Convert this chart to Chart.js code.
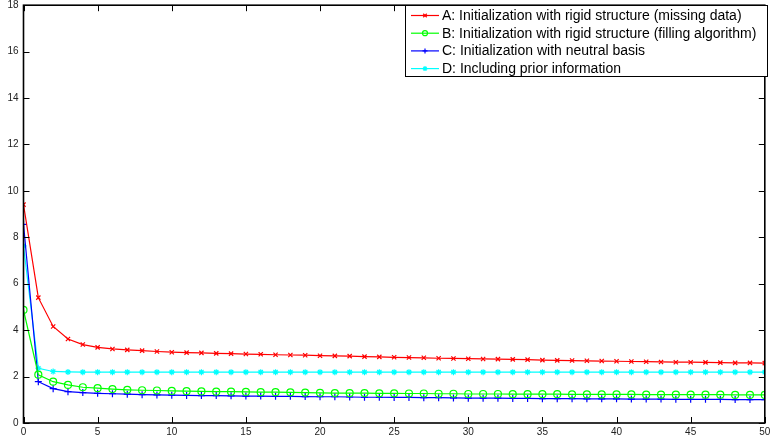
<!DOCTYPE html>
<html>
<head>
<meta charset="utf-8">
<script src="https://cdn.jsdelivr.net/npm/chart.js@4.4.1/dist/chart.umd.min.js"></script>
<style>
  html, body { margin: 0; padding: 0; background: #fff; }
  #wrap { width: 770px; height: 442px; position: relative; }
</style>
</head>
<body>
<div id="wrap"><canvas id="chart" width="770" height="442"></canvas></div>
<script>
// iterations 0..50
const iterations = Array.from({ length: 51 }, (_, i) => i);

const seriesLabels = [
  "A: Initialization with rigid structure (missing data)",
  "B: Initialization with rigid structure (filling algorithm)",
  "C: Initialization with neutral basis",
  "D: Including prior information",
];

const valuesA = [9.41, 5.40, 4.16, 3.62, 3.38, 3.26, 3.19, 3.15, 3.12, 3.08,
  3.05, 3.03, 3.02, 3.00, 2.99, 2.97, 2.96, 2.94, 2.93, 2.92,
  2.90, 2.89, 2.88, 2.86, 2.85, 2.83, 2.82, 2.81, 2.79, 2.78,
  2.77, 2.76, 2.75, 2.74, 2.73, 2.71, 2.70, 2.69, 2.68, 2.67,
  2.66, 2.65, 2.64, 2.63, 2.62, 2.62, 2.61, 2.60, 2.59, 2.59, 2.58];

const valuesB = [4.87, 2.08, 1.78, 1.64, 1.54, 1.50, 1.46, 1.43, 1.41, 1.40,
  1.38, 1.37, 1.36, 1.35, 1.35, 1.34, 1.33, 1.33, 1.32, 1.31,
  1.30, 1.29, 1.29, 1.29, 1.28, 1.28, 1.27, 1.27, 1.26, 1.26,
  1.25, 1.25, 1.25, 1.24, 1.24, 1.24, 1.24, 1.23, 1.23, 1.23,
  1.23, 1.23, 1.22, 1.22, 1.22, 1.22, 1.22, 1.22, 1.21, 1.21, 1.21];

const valuesC = [8.56, 1.78, 1.48, 1.35, 1.31, 1.28, 1.26, 1.24, 1.22, 1.21,
  1.20, 1.19, 1.18, 1.18, 1.17, 1.16, 1.16, 1.15, 1.15, 1.14,
  1.13, 1.13, 1.12, 1.11, 1.11, 1.10, 1.10, 1.09, 1.09, 1.08,
  1.07, 1.07, 1.07, 1.06, 1.06, 1.05, 1.05, 1.05, 1.04, 1.04,
  1.04, 1.03, 1.03, 1.03, 1.02, 1.02, 1.02, 1.02, 1.01, 1.01, 1.01];

const valuesD = [7.63, 2.36, 2.22, 2.20, 2.19, 2.19, 2.19, 2.19, 2.19, 2.19,
  2.19, 2.19, 2.19, 2.19, 2.19, 2.19, 2.19, 2.19, 2.19, 2.19,
  2.19, 2.19, 2.19, 2.19, 2.19, 2.19, 2.19, 2.19, 2.19, 2.19,
  2.19, 2.19, 2.19, 2.19, 2.19, 2.19, 2.19, 2.19, 2.19, 2.19,
  2.19, 2.19, 2.19, 2.19, 2.19, 2.19, 2.19, 2.19, 2.19, 2.19, 2.19];

const xTicks = [0, 5, 10, 15, 20, 25, 30, 35, 40, 45, 50];
const yTicks = [0, 2, 4, 6, 8, 10, 12, 14, 16, 18];

const colors = ["#ff0000", "#00ff00", "#0000ff", "#00ffff"];
const markers = ["crossRot", "circle", "cross", "star"];
const markerSize = [3, 3.5, 3.5, 3];
const allValues = [valuesA, valuesB, valuesC, valuesD];

const FONT = "'Liberation Sans', Arial, sans-serif";

function makeDataset(i) {
  return {
    label: seriesLabels[i],
    data: iterations.map((x, k) => ({ x: x, y: allValues[i][k] })),
    borderColor: colors[i],
    backgroundColor: "rgba(0,0,0,0)",
    borderWidth: 1.2,
    pointStyle: markers[i],
    pointRadius: markerSize[i],
    pointBorderColor: colors[i],
    pointBorderWidth: 1.2,
    pointBackgroundColor: "rgba(0,0,0,0)",
    tension: 0,
    fill: false,
  };
}

// box + inward ticks (matlab style)
const axesBox = {
  id: "axesBox",
  afterDraw(chart) {
    const { ctx, chartArea: a, scales } = chart;
    ctx.save();
    ctx.strokeStyle = "#000";
    ctx.lineWidth = 1;
    const tl = 6;
    ctx.beginPath();
    xTicks.forEach((v) => {
      const px = Math.round(scales.x.getPixelForValue(v)) + 0.5;
      ctx.moveTo(px, a.bottom); ctx.lineTo(px, a.bottom - tl);
      ctx.moveTo(px, a.top); ctx.lineTo(px, a.top + tl);
    });
    yTicks.forEach((v) => {
      const py = Math.round(scales.y.getPixelForValue(v)) + 0.5;
      ctx.moveTo(a.left, py); ctx.lineTo(a.left + tl, py);
      ctx.moveTo(a.right, py); ctx.lineTo(a.right - tl, py);
    });
    ctx.stroke();
    ctx.lineWidth = 1.6;
    ctx.strokeRect(a.left, a.top, a.right - a.left, a.bottom - a.top);
    ctx.restore();
  },
};

// legend box in upper right
const boxLegend = {
  id: "boxLegend",
  afterDraw(chart) {
    const { ctx } = chart;
    const x0 = 405.5, y0 = 5.5, w = 362, h = 71;
    ctx.save();
    ctx.fillStyle = "#fff";
    ctx.fillRect(x0, y0, w, h);
    ctx.strokeStyle = "#000";
    ctx.lineWidth = 1;
    ctx.strokeRect(x0, y0, w, h);
    ctx.font = "14px " + FONT;
    ctx.textBaseline = "middle";
    chart.data.datasets.forEach((ds, i) => {
      const cy = 15.5 + i * 17.7;
      ctx.strokeStyle = ds.borderColor;
      ctx.lineWidth = 1.2;
      ctx.beginPath();
      ctx.moveTo(411, cy); ctx.lineTo(439, cy);
      ctx.stroke();
      if (Chart.helpers && Chart.helpers.drawPoint) {
        ctx.fillStyle = "rgba(0,0,0,0)";
        Chart.helpers.drawPoint(ctx, { pointStyle: ds.pointStyle, radius: 2.5, borderWidth: 1 }, 425, cy);
      }
      ctx.fillStyle = "#000";
      ctx.fillText(ds.label, 442, cy + 0.5);
    });
    ctx.restore();
  },
};

new Chart(document.getElementById("chart").getContext("2d"), {
  type: "line",
  data: { datasets: [0, 1, 2, 3].map(makeDataset) },
  options: {
    responsive: false,
    animation: false,
    events: [],
    layout: { padding: { top: 1.5, right: 3, left: 0, bottom: 0 } },
    plugins: {
      legend: { display: false },
      tooltip: { enabled: false },
    },
    scales: {
      x: {
        type: "linear",
        min: 0,
        max: 50,
        grid: { display: false, drawTicks: false },
        border: { display: false },
        afterBuildTicks: (s) => { s.ticks = xTicks.map((v) => ({ value: v })); },
        afterFit: (s) => { s.height = 19; s.paddingLeft = 0; s.paddingRight = 0; },
        ticks: {
          color: "#222",
          padding: 3,
          maxRotation: 0,
          autoSkip: false,
          font: { family: FONT, size: 10 },
        },
      },
      y: {
        type: "linear",
        min: 0,
        max: 18,
        grid: { display: false, drawTicks: false },
        border: { display: false },
        afterBuildTicks: (s) => { s.ticks = yTicks.map((v) => ({ value: v })); },
        afterFit: (s) => { s.width = 23.5; s.paddingTop = 0; s.paddingBottom = 0; },
        ticks: {
          color: "#222",
          padding: 5,
          autoSkip: false,
          font: { family: FONT, size: 10 },
        },
      },
    },
  },
  plugins: [axesBox, boxLegend],
});
</script>
</body>
</html>
